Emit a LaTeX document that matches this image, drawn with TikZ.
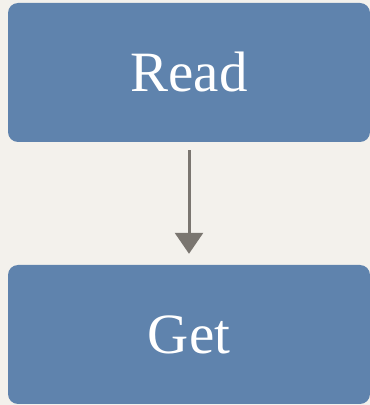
\documentclass[tikz,border=0pt]{standalone}
\usepackage{fontspec}
\setmainfont{Liberation Serif}
\usetikzlibrary{arrows.meta}
\definecolor{bg}{HTML}{F3F1EC}
\definecolor{boxblue}{HTML}{5F83AD}
\definecolor{arrowgrey}{HTML}{7A7670}
\begin{document}
\begin{tikzpicture}[x=1pt,y=1pt,
  blockbox/.style={fill=boxblue, draw=none, rounded corners=10pt, minimum width=362pt, minimum height=139pt, inner sep=0pt, text=white, font=\fontsize{57}{62}\selectfont},
  flowarrow/.style={draw=arrowgrey, line width=3pt, -{Triangle[width=28pt,length=21pt]}}]
\fill[bg] (0,0) rectangle (370,405);
\useasboundingbox (0,0) rectangle (370,405);
\node[blockbox] (read) at (189,332.5) {Read};
\node[blockbox] (get) at (189,70.5) {Get};
\draw[flowarrow] ([yshift=-8pt]read.south) -- ([yshift=11pt]get.north);
\end{tikzpicture}
\end{document}
